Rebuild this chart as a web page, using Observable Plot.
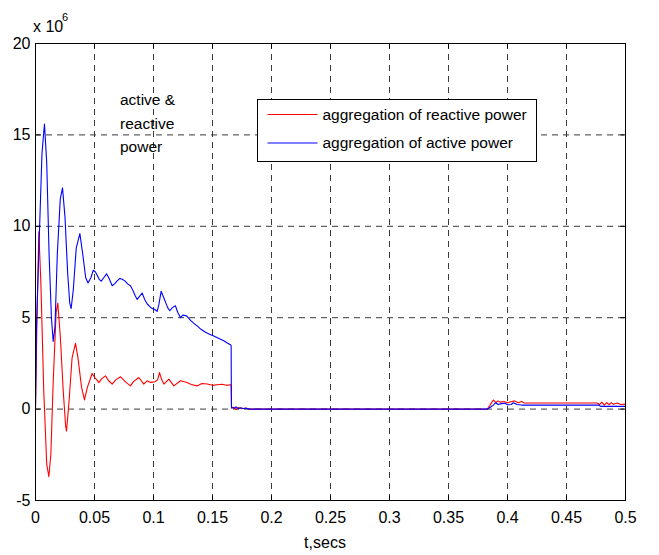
<!DOCTYPE html>
<html><head><meta charset="utf-8">
<script src="https://cdn.jsdelivr.net/npm/d3@7"></script>
<script src="https://cdn.jsdelivr.net/npm/@observablehq/plot@0.6"></script>
<style>body{margin:0;background:#fff}#chart{width:659px;height:555px}</style>
</head><body><div id="chart"></div>
<script>
const xTicks = [0, 0.05, 0.1, 0.15, 0.2, 0.25, 0.3, 0.35, 0.4, 0.45, 0.5];
const yTicks = [-5, 0, 5, 10, 15, 20];
const seriesNames = ["aggregation of reactive power", "aggregation of active power"];
const seriesColors = ["#ff0000", "#0000ff"];
const noteLines = ["active &", "reactive", "power"];
const xLabel = "t,secs";
const yUnit = "x 10";
const yUnitExp = "6";

// active power (x 10^6)
const activeT = [0, 0.0008, 0.003, 0.0055, 0.0076, 0.0095, 0.0115, 0.0135, 0.015, 0.0165, 0.0185, 0.021, 0.0229, 0.025, 0.0272, 0.029, 0.0302, 0.032, 0.0345, 0.0376, 0.040, 0.0425, 0.0445, 0.047, 0.049, 0.0508, 0.0525, 0.054, 0.0557, 0.058, 0.0602, 0.062, 0.064, 0.065, 0.067, 0.069, 0.0715, 0.0735, 0.076, 0.078, 0.0805, 0.0825, 0.0845, 0.0862, 0.088, 0.0904, 0.0925, 0.0947, 0.097, 0.0989, 0.101, 0.1031, 0.1045, 0.1065, 0.108, 0.1102, 0.112, 0.1138, 0.116, 0.1186, 0.1205, 0.1229, 0.125, 0.128, 0.1314, 0.134, 0.137, 0.1405, 0.1441, 0.1475, 0.1511, 0.155, 0.1596, 0.1625, 0.1653, 0.1658, 0.166, 0.168, 0.170, 0.172, 0.174, 0.176, 0.179, 0.181, 0.3828, 0.3855, 0.388, 0.390, 0.392, 0.395, 0.398, 0.400, 0.403, 0.405, 0.408, 0.412, 0.477, 0.479, 0.5];
const activeV = [0, 4.5, 9, 14, 15.6, 13.5, 8.5, 5, 3.7, 4.5, 8.5, 11.5, 12.1, 10.5, 7.5, 5.8, 5.5, 6.5, 8.8, 9.6, 8.5, 7.2, 6.9, 7.2, 7.6, 7.5, 7.3, 7.1, 7.0, 7.2, 7.4, 7.2, 6.9, 6.75, 6.85, 7.0, 7.15, 7.1, 7.0, 6.85, 6.75, 6.5, 6.2, 6.0, 6.15, 6.35, 6.0, 5.75, 5.6, 5.5, 5.45, 5.35, 5.7, 6.45, 6.2, 5.85, 5.55, 5.38, 5.55, 5.65, 5.3, 5.0, 5.15, 5.1, 4.85, 4.7, 4.55, 4.35, 4.2, 4.1, 4.0, 3.88, 3.74, 3.62, 3.52, 3.45, 0.1, 0.05, 0.12, 0.02, 0.08, 0.03, 0.05, 0, 0, 0.1, 0.22, 0.35, 0.25, 0.3, 0.32, 0.24, 0.25, 0.35, 0.25, 0.22, 0.22, 0.15, 0.15];

// reactive power (x 10^6)
const reactiveT = [0, 0.001, 0.0028, 0.0045, 0.007, 0.0095, 0.0113, 0.013, 0.015, 0.0175, 0.0189, 0.021, 0.0235, 0.0255, 0.0263, 0.0285, 0.031, 0.0339, 0.036, 0.039, 0.0415, 0.044, 0.048, 0.0505, 0.052, 0.0537, 0.056, 0.0593, 0.062, 0.065, 0.068, 0.072, 0.0745, 0.077, 0.0805, 0.083, 0.0876, 0.0918, 0.0945, 0.0975, 0.101, 0.1035, 0.1051, 0.107, 0.1088, 0.113, 0.1172, 0.1229, 0.1285, 0.132, 0.137, 0.141, 0.1455, 0.15, 0.154, 0.158, 0.162, 0.1653, 0.1658, 0.1662, 0.168, 0.17, 0.172, 0.175, 0.178, 0.181, 0.3828, 0.384, 0.386, 0.388, 0.390, 0.392, 0.394, 0.397, 0.4, 0.403, 0.406, 0.409, 0.412, 0.414, 0.476, 0.478, 0.48, 0.482, 0.484, 0.486, 0.488, 0.49, 0.493, 0.496, 0.5];
const reactiveV = [0, 4, 9.7, 7, 1, -3, -3.7, -2.5, 1.5, 5.3, 5.8, 4, 1, -0.9, -1.2, 0.5, 2.8, 3.6, 2.8, 1.2, 0.5, 1.2, 1.95, 1.7, 1.6, 1.45, 1.65, 1.82, 1.55, 1.37, 1.6, 1.77, 1.6, 1.45, 1.27, 1.5, 1.73, 1.37, 1.55, 1.46, 1.5, 1.6, 2.0, 1.6, 1.37, 1.64, 1.27, 1.55, 1.46, 1.35, 1.27, 1.4, 1.37, 1.3, 1.33, 1.36, 1.3, 1.33, 1.3, 0.05, 0.1, -0.02, 0.08, 0.02, 0.06, 0, 0, 0.1, 0.3, 0.5, 0.35, 0.45, 0.38, 0.42, 0.35, 0.4, 0.45, 0.35, 0.42, 0.33, 0.33, 0.25, 0.38, 0.22, 0.36, 0.24, 0.35, 0.26, 0.33, 0.25, 0.27];

const reactive = reactiveT.map((t, i) => ({t, v: reactiveV[i]}));
const active = activeT.map((t, i) => ({t, v: activeV[i]}));

const FONT = "'Liberation Sans', Arial, Helvetica, sans-serif";
const plot = Plot.plot({
  width: 659, height: 555,
  marginLeft: 35, marginRight: 34, marginTop: 43, marginBottom: 55,
  style: {fontFamily: FONT, fontSize: "16px", background: "white", color: "black"},
  x: {domain: [0, 0.5], ticks: xTicks, label: null},
  y: {domain: [-5, 20], ticks: yTicks, label: null},
  marks: [
    Plot.ruleX(xTicks.slice(1, -1), {stroke: "#3a3a3a", strokeWidth: 1, strokeDasharray: "6,5"}),
    Plot.ruleY(yTicks.slice(1, -1), {stroke: "#3a3a3a", strokeWidth: 1, strokeDasharray: "6,5"}),
    Plot.line(reactive, {x: "t", y: "v", stroke: seriesColors[0], strokeWidth: 1.1}),
    Plot.line(active, {x: "t", y: "v", stroke: seriesColors[1], strokeWidth: 1.1}),
    Plot.axisX(xTicks, {tickSize: 0, tickPadding: 11, tickFormat: d => String(d), fontSize: 16}),
    Plot.axisY(yTicks, {tickSize: 0, tickPadding: 5, tickFormat: d => String(d), fontSize: 16}),
    Plot.frame({stroke: "black", strokeWidth: 1})
  ]
});
document.getElementById("chart").appendChild(plot);

const sx = plot.scale("x"), sy = plot.scale("y");
const svg = d3.select(plot);
const g = svg.append("g").attr("transform", "translate(0.5,0.5)");
const [x0, x1] = sx.range, yb = sy.range[0], yt = sy.range[1];
const TL = 5;
xTicks.forEach(t => {
  const x = sx.apply(t);
  g.append("line").attr("x1", x).attr("x2", x).attr("y1", yb).attr("y2", yb - TL).attr("stroke", "black");
  g.append("line").attr("x1", x).attr("x2", x).attr("y1", yt).attr("y2", yt + TL).attr("stroke", "black");
});
yTicks.forEach(v => {
  const y = sy.apply(v);
  g.append("line").attr("x1", x0).attr("x2", x0 + TL).attr("y1", y).attr("y2", y).attr("stroke", "black");
  g.append("line").attr("x1", x1).attr("x2", x1 - TL).attr("y1", y).attr("y2", y).attr("stroke", "black");
});

const txt = (x, y, s, size, anchor = "start") =>
  svg.append("text").attr("x", x).attr("y", y).attr("text-anchor", anchor)
    .attr("font-family", FONT).attr("font-size", size).attr("fill", "black").text(s);

// exponent label
txt(33, 32, yUnit, 16);
txt(62, 21, yUnitExp, 11);

// x label
txt(325, 548, xLabel, 16, "middle");

// annotation
noteLines.forEach((s, i) => txt(120, 100 + i * 23.5, s, 15.5).attr("dy", "0.35em"));

// legend
const lg = svg.append("g").attr("transform", "translate(0.5,0.5)");
lg.append("rect").attr("x", 257).attr("y", 99).attr("width", 279).attr("height", 62).attr("fill", "white").attr("stroke", "black");
seriesNames.forEach((name, i) => {
  const y = 114 + i * 28.5;
  lg.append("line").attr("x1", 267).attr("x2", 317).attr("y1", y).attr("y2", y).attr("stroke", seriesColors[i]);
  lg.append("text").attr("x", 322).attr("y", y).attr("dy", "0.35em").attr("text-anchor", "start")
    .attr("font-family", FONT).attr("font-size", 15.5).attr("fill", "black").text(name);
});
</script>
</body></html>
